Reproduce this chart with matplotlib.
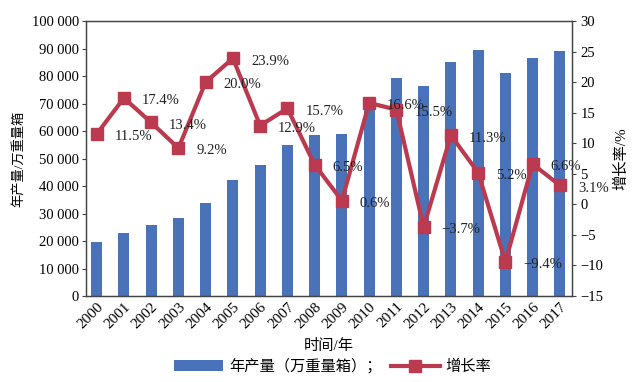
import numpy as np
import matplotlib
matplotlib.use("Agg")
import matplotlib.pyplot as plt
from matplotlib.ticker import FuncFormatter

plt.rcParams['font.family'] = ['Liberation Serif', 'Noto Sans CJK SC']
plt.rcParams['axes.unicode_minus'] = True

years = [str(y) for y in range(2000, 2018)]
output = [19500, 22900, 25900, 28200, 33900, 42100, 47600, 55100, 58600,
          59000, 68800, 79400, 76500, 85200, 89600, 81200, 86500, 89200]
growth = [11.5, 17.4, 13.4, 9.2, 20.0, 23.9, 12.9, 15.7, 6.5,
          0.6, 16.6, 15.5, -3.7, 11.3, 5.2, -9.4, 6.6, 3.1]
growth_labels = ["11.5%", "17.4%", "13.4%", "9.2%", "20.0%", "23.9%", "12.9%", "15.7%", "6.5%",
                 "0.6%", "16.6%", "15.5%", "\u22123.7%", "11.3%", "5.2%", "\u22129.4%", "6.6%", "3.1%"]

bar_color = "#4A72B8"
line_color = "#BC3A4F"
fs = 10.5
cjk_fs = 11

fig = plt.figure(figsize=(6.4, 3.82), dpi=100)
ax = fig.add_axes([0.134, 0.225, 0.76, 0.72])
x = np.arange(len(years))
bars = ax.bar(x, output, width=0.4, color=bar_color, zorder=2)
ax.set_ylim(0, 100000)
ax.set_yticks(np.arange(0, 100001, 10000))
ax.yaxis.set_major_formatter(FuncFormatter(lambda v, p: f"{int(v):,}".replace(",", " ")))
ax.set_xlim(-0.4, 17.45)
ax.set_xticks(x)
ax.set_xticklabels(years, rotation=45, ha="right", rotation_mode="anchor")
ax.tick_params(axis="y", labelsize=fs, direction="out", length=3, color="#444444", pad=2)
ax.tick_params(axis="x", labelsize=fs + 0.5, length=0, pad=3)
ax.set_ylabel("年产量/万重量箱", fontsize=9.5, labelpad=5)
ax.set_xlabel("时间/年", fontsize=cjk_fs, labelpad=6)
for s in ax.spines.values():
    s.set_color("#444444")
    s.set_linewidth(0.9)

ax2 = ax.twinx()
line, = ax2.plot(x, growth, color=line_color, linewidth=3, marker="s",
                 markersize=9, zorder=3)
for xi, g, lab in zip(x, growth, growth_labels):
    ax2.annotate(lab, (xi, g), xytext=(13, -2), textcoords="offset points",
                 ha="left", va="center", fontsize=fs, color="#222222")
ax2.set_ylim(-15, 30)
ax2.set_yticks(np.arange(-15, 31, 5))
ax2.tick_params(axis="y", labelsize=fs, direction="out", length=3, color="#444444", pad=3)
ax2.set_ylabel("增长率/%", fontsize=cjk_fs, labelpad=8)
for s in ax2.spines.values():
    s.set_color("#444444")
    s.set_linewidth(0.9)

fig.legend([bars, line], ["年产量（万重量箱）；", "增长率"], loc="lower center",
           bbox_to_anchor=(0.52, -0.015), ncol=2, frameon=False, fontsize=cjk_fs,
           handlelength=3.2, handletextpad=0.4, columnspacing=0.6)

fig.savefig("out.png", dpi=100)
